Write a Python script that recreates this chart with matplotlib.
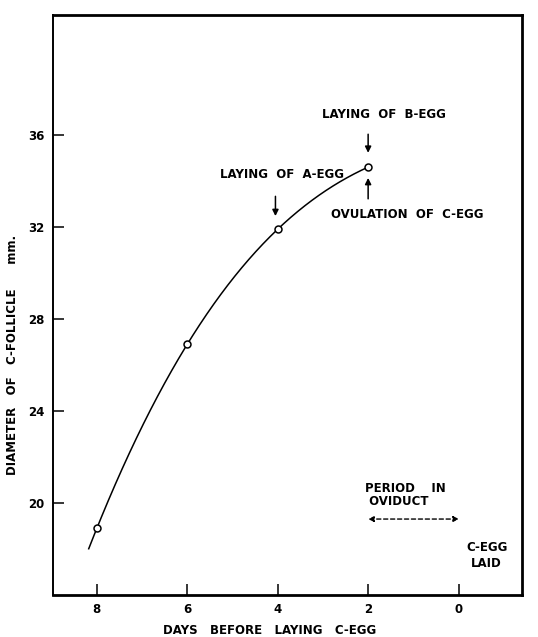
import numpy as np
import matplotlib
matplotlib.use("Agg")
import matplotlib.pyplot as plt

# values
days = [8, 6, 4, 2]
diameter = [18.9, 26.9, 31.9, 34.6]
curve_start_day = 8.18          # the drawn curve starts a little before day 8
x_ticks = [8, 6, 4, 2, 0]
y_ticks = [20, 24, 28, 32, 36]

plt.rcParams["font.family"] = ["DejaVu Sans"]
plt.rcParams["font.weight"] = "bold"

fig = plt.figure(figsize=(5.38, 6.37), dpi=100)
ax = fig.add_axes([0.0985, 0.066, 0.8715, 0.91])

# smooth curve through the observed points
coef = np.polyfit(days, diameter, 3)
xs = np.linspace(days[-1], curve_start_day, 200)
ax.plot(xs, np.polyval(coef, xs), color="black", lw=1.1)
ax.plot(days, diameter, "o", ms=5, mfc="white", mec="black", mew=1.1)

ax.set_xlim(8.97, -1.4)
ax.set_ylim(16.0, 41.2)
ax.set_xticks(x_ticks)
ax.set_yticks(y_ticks)
ax.tick_params(direction="in", length=8, width=1.1, labelsize=8.5, pad=6)
for lbl in ax.get_xticklabels() + ax.get_yticklabels():
    lbl.set_fontweight("bold")
for side in ["top", "right", "bottom"]:
    ax.spines[side].set_linewidth(2)
ax.spines["left"].set_linewidth(1.4)

ax.set_xlabel("DAYS   BEFORE   LAYING   C-EGG", fontsize=8.5, fontweight="bold")
ax.xaxis.set_label_coords(0.463, -0.05)
ax.set_ylabel("DIAMETER   OF   C-FOLLICLE      mm.", fontsize=8.5, fontweight="bold")
ax.yaxis.set_label_coords(-0.072, 0.414)

txt = dict(fontsize=8.5, fontweight="bold", color="black")
arr = dict(arrowstyle="-|>", color="black", lw=1.1, mutation_scale=9)

ax.text(1.66, 36.9, "LAYING  OF  B-EGG", ha="center", va="center", **txt)
ax.annotate("", xy=(2.0, 35.1), xytext=(2.0, 36.15), arrowprops=arr)

ax.text(3.9, 34.3, "LAYING  OF  A-EGG", ha="center", va="center", **txt)
ax.annotate("", xy=(4.05, 32.35), xytext=(4.05, 33.45), arrowprops=arr)

ax.annotate("", xy=(2.0, 34.25), xytext=(2.0, 33.1), arrowprops=arr)
ax.text(1.13, 32.52, "OVULATION  OF  C-EGG", ha="center", va="center", **txt)

ax.text(2.07, 20.35, "PERIOD    IN\n OVIDUCT", ha="left", va="center",
        linespacing=1.05, **txt)
ax.annotate("", xy=(-0.07, 19.3), xytext=(2.06, 19.3),
            arrowprops=dict(arrowstyle="<|-|>", color="black", lw=1.0,
                            linestyle=(0, (3, 2)), mutation_scale=8))

ax.text(-0.62, 17.7, "C-EGG\nLAID", ha="center", va="center",
        linespacing=1.3, **txt)

fig.savefig("out.png", dpi=100)
